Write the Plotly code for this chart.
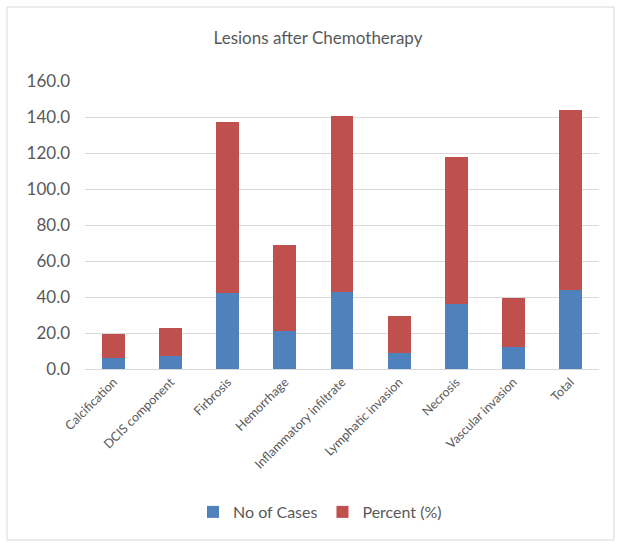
import plotly.graph_objects as go

categories = ["Calcification", "DCIS component", "Firbrosis", "Hemorrhage",
              "Inflammatory infiltrate", "Lymphatic invasion", "Necrosis",
              "Vascular invasion", "Total"]
cases = [6, 7, 42, 21, 43, 9, 36, 12, 44]
percent = [13.6, 15.9, 95.5, 47.7, 97.7, 20.5, 81.8, 27.3, 100.0]
y_ticks = [0, 20, 40, 60, 80, 100, 120, 140, 160]

FONT = "Lato, 'Open Sans', sans-serif"
GREY = "#595959"

fig = go.Figure()
fig.add_trace(go.Bar(x=categories, y=cases, name="No of Cases",
                     marker=dict(color="#4F81BD", line=dict(width=0))))
fig.add_trace(go.Bar(x=categories, y=percent, name="Percent (%)",
                     marker=dict(color="#C0504D", line=dict(width=0))))

W, H = 621, 546
L, R, T, B = 85, 22, 81, 177
PW, PH = W - L - R, H - T - B

fig.update_layout(
    width=W, height=H,
    barmode="stack", bargap=0.6,
    plot_bgcolor="white", paper_bgcolor="white",
    margin=dict(l=L, r=R, t=T, b=B, autoexpand=False),
    font=dict(family=FONT, color=GREY),
    title=dict(text="Lesions after Chemotherapy", x=318 / W, xref="container",
               xanchor="center", y=1 - 38 / H, yanchor="middle",
               font=dict(size=17, color=GREY, family=FONT)),
    xaxis=dict(tickangle=-45, tickfont=dict(size=12.5, color=GREY),
               showline=True, linecolor="#D9D9D9", linewidth=1,
               ticks="", showgrid=False, automargin=False),
    yaxis=dict(range=[0, 160], tickvals=y_ticks,
               ticktext=[f"{v:.1f}" for v in y_ticks],
               tickfont=dict(size=17, color=GREY),
               gridcolor="#D9D9D9", gridwidth=1, zeroline=False,
               showline=False, ticks="", ticklen=0, ticklabelstandoff=14,
               automargin=False),
    legend=dict(orientation="h", x=(320 - L) / PW, xanchor="center",
                y=(H - B - 512) / PH, yanchor="middle",
                font=dict(size=16, color=GREY, family=FONT),
                itemwidth=30, traceorder="normal"),
    shapes=[dict(type="rect", xref="paper", yref="paper",
                 x0=(7 - L) / PW, x1=(614 - L) / PW,
                 y0=(H - B - 540) / PH, y1=(H - B - 7) / PH,
                 line=dict(color="#D9D9D9", width=1), layer="below")],
)

fig.write_html("out.html", config={"displayModeBar": False},
               post_script="document.body.style.margin='0';document.body.style.padding='0';")
